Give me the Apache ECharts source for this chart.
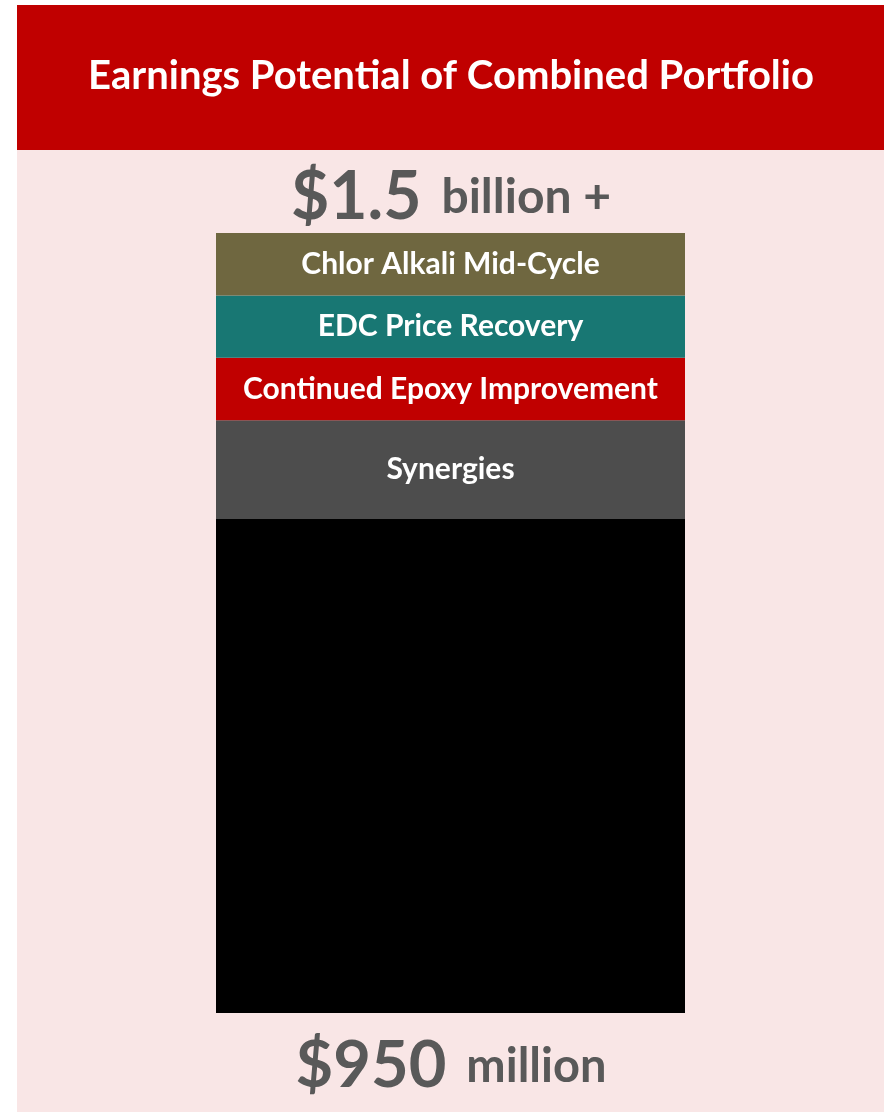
<!DOCTYPE html>
<html>
<head>
<meta charset="utf-8">
<script src="https://cdn.jsdelivr.net/npm/echarts@6/dist/echarts.min.js"></script>
<style>
  html, body { margin: 0; padding: 0; background: #ffffff; }
  #chart { width: 887px; height: 1112px; }
</style>
</head>
<body>
<div id="chart"></div>
<script>
// ---- Data ----
const categories = ['Combined Portfolio'];
const segmentNames = ['Base', 'Synergies', 'Continued Epoxy Improvement', 'EDC Price Recovery', 'Chlor Alkali Mid-Cycle'];
const segmentValues = [950, 190, 120, 120, 120]; // $ million
const showSegmentLabel = [false, true, true, true, true];
const titleText = 'Earnings Potential of Combined Portfolio';
const topLabelBig = '$1.5';
const topLabelSmall = 'billion +';
const bottomLabelBig = '$950';
const bottomLabelSmall = 'million';

// ---- Styles ----
const segmentColors = ['#000000', '#4D4D4D', '#C00000', '#187773', '#6F6740'];
const FONT = 'Lato';

const chart = echarts.init(document.getElementById('chart'), null, { renderer: 'canvas' });

const series = segmentNames.map((name, i) => ({
  name: name,
  type: 'bar',
  stack: 'total',
  barWidth: 469,
  data: [segmentValues[i]],
  itemStyle: { color: segmentColors[i] },
  label: {
    show: showSegmentLabel[i],
    position: 'inside',
    formatter: name,
    color: '#ffffff',
    fontFamily: FONT,
    fontWeight: 'bold',
    fontSize: 30
  },
  emphasis: { disabled: true },
  silent: true
}));

const option = {
  animation: false,
  backgroundColor: '#ffffff',
  grid: { left: 216, right: 202, top: 233, bottom: 99 },
  xAxis: { type: 'category', data: categories, show: false },
  yAxis: { type: 'value', min: 0, max: 1500, show: false },
  graphic: [
    { type: 'rect', z: -10, shape: { x: 17, y: 150, width: 867, height: 962 }, style: { fill: '#F9E6E6' } },
    { type: 'rect', z: -10, shape: { x: 17, y: 5, width: 867, height: 145 }, style: { fill: '#C00000' } },
    { type: 'text', z: 10, x: 451, y: 76,
      style: { text: titleText, fill: '#ffffff', font: 'bold 40px ' + FONT, textAlign: 'center', textVerticalAlign: 'middle' } },
    { type: 'text', z: 10, x: 451, y: 231,
      style: {
        text: '{big|' + topLabelBig + '}{small|' + topLabelSmall + '}',
        textAlign: 'center', textVerticalAlign: 'bottom',
        rich: {
          big: { fontFamily: FONT, fontWeight: 'bold', fontSize: 66, fill: '#595959', color: '#595959' },
          small: { fontFamily: FONT, fontWeight: 'bold', fontSize: 48, fill: '#595959', color: '#595959', padding: [0, 0, 0, 20] }
        }
      } },
    { type: 'text', z: 10, x: 451, y: 1099,
      style: {
        text: '{big|' + bottomLabelBig + '}{small|' + bottomLabelSmall + '}',
        textAlign: 'center', textVerticalAlign: 'bottom',
        rich: {
          big: { fontFamily: FONT, fontWeight: 'bold', fontSize: 65, fill: '#595959', color: '#595959' },
          small: { fontFamily: FONT, fontWeight: 'bold', fontSize: 47, fill: '#595959', color: '#595959', padding: [0, 0, 0, 20] }
        }
      } }
  ],
  series: series
};

chart.setOption(option);
</script>
</body>
</html>
